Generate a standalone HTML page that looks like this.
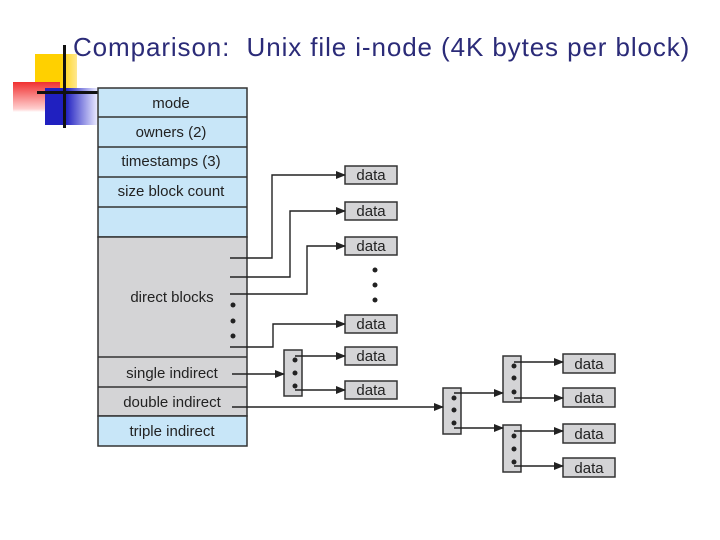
<!DOCTYPE html>
<html><head><style>
body{margin:0;width:720px;height:540px;background:#fff;overflow:hidden;position:relative;font-family:"Liberation Sans",sans-serif}
.t{position:absolute;left:73px;top:32px;font-size:26px;color:#2b2b78;white-space:nowrap;letter-spacing:0.9px}
</style></head><body>
<div style="position:absolute;left:35px;top:54px;width:42px;height:36px;background:linear-gradient(90deg,#ffd000 60%,#ffe890)"></div>
<div style="position:absolute;left:13px;top:82px;width:47px;height:30px;background:linear-gradient(180deg,#f03030,#ffd0d0 90%,#fff)"></div>
<div style="position:absolute;left:45px;top:88px;width:52px;height:37px;background:linear-gradient(90deg,#2020c0 40%,#e8e8ff)"></div>
<div style="position:absolute;left:63px;top:45px;width:3px;height:83px;background:#111"></div>
<div style="position:absolute;left:37px;top:91px;width:61px;height:3px;background:#111"></div>
<div class="t">Comparison:&nbsp; Unix file i-node (4K bytes per block)</div>
<svg width="720" height="540" style="position:absolute;left:0;top:0" font-family="Liberation Sans, sans-serif">
<defs><marker id="a" markerWidth="10" markerHeight="8" refX="9" refY="4" orient="auto" markerUnits="userSpaceOnUse"><path d="M0,0 L10,4 L0,8 z" fill="#222"/></marker></defs>
<g stroke="#333" stroke-width="1.5">
<rect x="98" y="88" width="149" height="149" fill="#c8e6f8"/>
<rect x="98" y="237" width="149" height="179" fill="#d4d4d6"/>
<rect x="98" y="416" width="149" height="30" fill="#c8e6f8"/>
<line x1="98" y1="117" x2="247" y2="117"/><line x1="98" y1="147" x2="247" y2="147"/>
<line x1="98" y1="177" x2="247" y2="177"/><line x1="98" y1="207" x2="247" y2="207"/>
<line x1="98" y1="357" x2="247" y2="357"/><line x1="98" y1="387" x2="247" y2="387"/>
</g>
<g font-size="15" fill="#222" text-anchor="middle">
<text x="171" y="108">mode</text><text x="171" y="137">owners (2)</text>
<text x="171" y="166">timestamps (3)</text><text x="171" y="196">size block count</text>
<text x="172" y="302">direct blocks</text><text x="172" y="378">single indirect</text>
<text x="172" y="407">double indirect</text><text x="172" y="436">triple indirect</text>
</g>
<g fill="#d4d4d6" stroke="#333" stroke-width="1.5">
<rect x="345" y="166" width="52" height="18"/><rect x="345" y="202" width="52" height="18"/>
<rect x="345" y="237" width="52" height="18"/><rect x="345" y="315" width="52" height="18"/>
<rect x="345" y="347" width="52" height="18"/><rect x="345" y="381" width="52" height="18"/>
<rect x="563" y="354" width="52" height="19"/><rect x="563" y="388" width="52" height="19"/>
<rect x="563" y="424" width="52" height="19"/><rect x="563" y="458" width="52" height="19"/>
<rect x="284" y="350" width="18" height="46"/><rect x="443" y="388" width="18" height="46"/>
<rect x="503" y="356" width="18" height="46"/><rect x="503" y="425" width="18" height="47"/>
</g>
<g font-size="15" fill="#222" text-anchor="middle">
<text x="371" y="180">data</text><text x="371" y="216">data</text><text x="371" y="251">data</text>
<text x="371" y="329">data</text><text x="371" y="361">data</text><text x="371" y="395">data</text>
<text x="589" y="369">data</text><text x="589" y="403">data</text><text x="589" y="439">data</text><text x="589" y="473">data</text>
</g>
<g fill="#222">
<circle cx="375" cy="270" r="2.5"/><circle cx="375" cy="285" r="2.5"/><circle cx="375" cy="300" r="2.5"/>
<circle cx="233" cy="305" r="2.5"/><circle cx="233" cy="321" r="2.5"/><circle cx="233" cy="336" r="2.5"/>
<circle cx="295" cy="360" r="2.5"/><circle cx="295" cy="373" r="2.5"/><circle cx="295" cy="386" r="2.5"/>
<circle cx="454" cy="398" r="2.5"/><circle cx="454" cy="410" r="2.5"/><circle cx="454" cy="423" r="2.5"/>
<circle cx="514" cy="366" r="2.5"/><circle cx="514" cy="378" r="2.5"/><circle cx="514" cy="392" r="2.5"/>
<circle cx="514" cy="436" r="2.5"/><circle cx="514" cy="449" r="2.5"/><circle cx="514" cy="462" r="2.5"/>
</g>
<g fill="none" stroke="#222" stroke-width="1.4" marker-end="url(#a)">
<polyline points="230,258 272,258 272,175 345,175"/>
<polyline points="230,277 290,277 290,211 345,211"/>
<polyline points="230,294 307,294 307,246 345,246"/>
<polyline points="230,347 273,347 273,324 345,324"/>
<polyline points="232,374 284,374"/>
<polyline points="295,356 345,356"/>
<polyline points="295,390 345,390"/>
<polyline points="232,407 443,407"/>
<polyline points="454,393 503,393"/>
<polyline points="454,428 503,428"/>
<polyline points="514,362 563,362"/>
<polyline points="514,398 563,398"/>
<polyline points="514,431 563,431"/>
<polyline points="514,466 563,466"/>
</g>
</svg>
</body></html>
